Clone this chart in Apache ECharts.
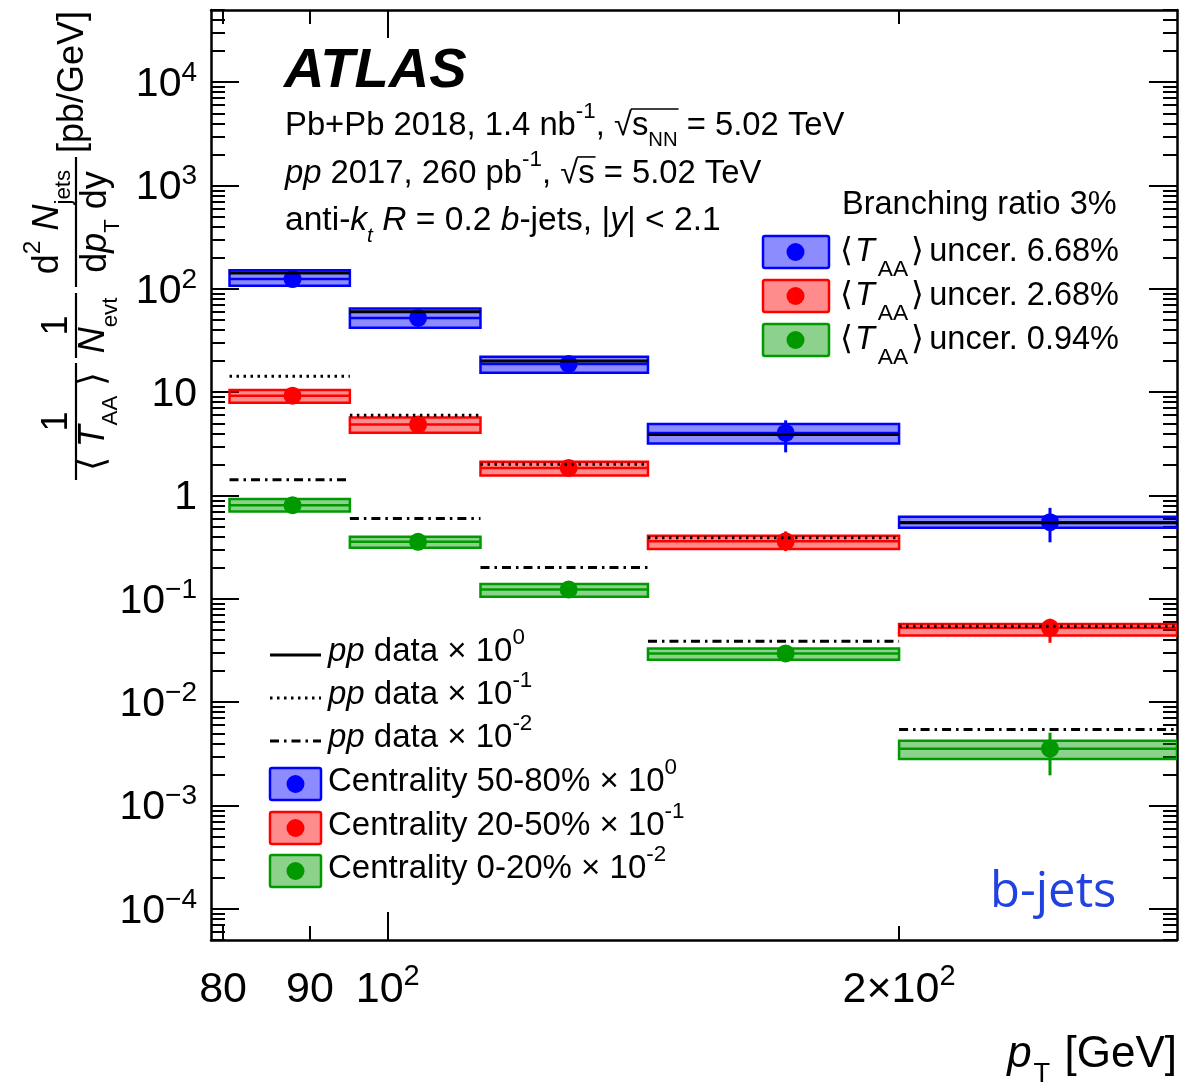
<!DOCTYPE html>
<html>
<head>
<meta charset="utf-8">
<script src="https://cdn.jsdelivr.net/npm/echarts@6/dist/echarts.min.js"></script>
<style>
  html, body { margin: 0; padding: 0; background: #fff; }
  #chart { width: 1184px; height: 1085px; }
</style>
</head>
<body>
<div id="chart"></div>
<script>
// ---------------- data ----------------
// jet pT bin edges [GeV] and the mean pT of the jets in each bin
const binEdges = [80.7, 95, 113.4, 142.3, 200, 291.5];
const meanPt = [87.9, 104.2, 127.8, 171.5, 245.4];

// pp reference spectrum [pb/GeV]; drawn x10^0 (solid), x10^-1 (dotted), x10^-2 (dash-dot)
const ppYield = [142.5, 60.0, 20.1, 3.9, 0.545];
const ppScale = [1, 0.1, 0.01];

// Pb+Pb per-event yields / <T_AA> (before the legend scale factor)
const yield5080 = [124.6, 52.3, 18.8, 4.04, 0.552];
const syst5080Lo = [107.0, 42.0, 15.4, 3.19, 0.489];
const syst5080Hi = [151.7, 64.5, 22.0, 4.92, 0.623];
const stat5080Lo = [119.0, 50.2, 18.0, 2.62, 0.353];
const stat5080Hi = [130.0, 54.5, 19.6, 5.35, 0.76];

const yield2050 = [92.7, 48.6, 18.5, 3.61, 0.525];
const syst2050Lo = [79.0, 40.5, 15.6, 3.04, 0.442];
const syst2050Hi = [104.8, 57.0, 21.2, 4.09, 0.572];
const stat2050Lo = [89.0, 46.8, 17.6, 2.9, 0.376];
const stat2050Hi = [96.5, 50.4, 19.4, 4.5, 0.642];

const yield0020 = [80.6, 35.7, 12.3, 2.965, 0.355];
const syst0020Lo = [70.0, 31.3, 10.5, 2.57, 0.283];
const syst0020Hi = [92.5, 40.0, 13.9, 3.32, 0.425];
const stat0020Lo = [77.5, 34.2, 11.7, 2.65, 0.196];
const stat0020Hi = [83.8, 37.3, 12.9, 3.3, 0.507];

const centralityScale = [1, 0.1, 0.01];

// axis ranges and labelled ticks
const X_MIN = 78.7, X_MAX = 291.5;
const Y_MIN = 5e-5, Y_MAX = 5e4;
const xLabelValues = [80, 90, 100, 200];
const xShortTicks = [80, 90, 200];
const xLongTicks = [100];
const yDecades = [1e-4, 1e-3, 1e-2, 1e-1, 1, 10, 100, 1e3, 1e4];

// ---------------- helpers ----------------
const FAM = "'Liberation Sans', Arial, Helvetica, sans-serif";
const mctx = document.createElement('canvas').getContext('2d');
function fnt(sz, it, bd) { return (it ? 'italic ' : '') + (bd ? 'bold ' : '') + sz.toFixed(1) + 'px ' + FAM; }
function tw(t, f) { mctx.font = f; return mctx.measureText(t).width; }

// lays out a line of mixed text (italic, super/subscripts, radicals)
// y is the vertical middle of the main-size text; seg = [kind, text, opts]
function latex(segs, size, x, y, align, color, subDy, subSc) {
  const items = [];
  let cx = 0;
  segs.forEach(s => {
    const k = s[0], t = s[1], o = s[2] || {};
    let sz = size, it = false, bd = false, dy = 0;
    if (k === 'i') it = true;
    if (k === 'b') { it = true; bd = true; }
    if (k === 'sup') { sz = size * 0.68; dy = -0.42 * size; }
    if (k === 'sub' || k === 'isub') { sz = size * (subSc || 0.62); dy = (subDy || 0.45) * size; it = (k === 'isub'); }
    const f = fnt(sz, it, bd);
    const w = tw(t, f);
    cx += (o.pre || 0);
    items.push({ k, t, f, x: cx, dy, w, n: o.n || 0 });
    cx += w + (o.post || 0);
  });
  const off = align === 'right' ? -cx : (align === 'center' ? -cx / 2 : 0);
  const els = [];
  items.forEach((it, i) => {
    els.push({
      type: 'text', x: x + off + it.x, y: y + it.dy,
      style: { text: it.t, font: it.f, fill: color || '#000', textAlign: 'left', textVerticalAlign: 'middle' }
    });
    if (it.k === 'sqrt') {
      const last = items[i + it.n];
      els.push({
        type: 'line',
        shape: { x1: x + off + it.x + it.w - 1, y1: y - 0.52 * size, x2: x + off + last.x + last.w + 1, y2: y - 0.52 * size },
        style: { stroke: color || '#000', lineWidth: 1.6 }
      });
    }
  });
  return { els, width: cx };
}

// ---------------- series ----------------
const groups = [
  { color: '#0000ff', fill: 'rgba(0,0,255,0.45)', y: yield5080, sLo: syst5080Lo, sHi: syst5080Hi, tLo: stat5080Lo, tHi: stat5080Hi, f: centralityScale[0] },
  { color: '#ff0000', fill: 'rgba(255,0,0,0.45)', y: yield2050, sLo: syst2050Lo, sHi: syst2050Hi, tLo: stat2050Lo, tHi: stat2050Hi, f: centralityScale[1] },
  { color: '#009a00', fill: 'rgba(0,154,0,0.45)', y: yield0020, sLo: syst0020Lo, sHi: syst0020Hi, tLo: stat0020Lo, tHi: stat0020Hi, f: centralityScale[2] }
];

const series = [];
// systematic boxes with a line through the central value
groups.forEach(g => {
  series.push({
    type: 'custom', xAxisIndex: 0, yAxisIndex: 0, clip: true, z: 2,
    data: g.y.map((v, i) => [binEdges[i], binEdges[i + 1], g.sLo[i] * g.f, g.sHi[i] * g.f, v * g.f]),
    renderItem: (params, api) => {
      const a = api.coord([api.value(0), api.value(3)]);
      const b = api.coord([api.value(1), api.value(2)]);
      const m0 = api.coord([api.value(0), api.value(4)]);
      const m1 = api.coord([api.value(1), api.value(4)]);
      return {
        type: 'group', children: [
          { type: 'rect', shape: { x: a[0], y: a[1], width: b[0] - a[0], height: b[1] - a[1] }, style: { fill: g.fill, stroke: g.color, lineWidth: 2.5 } },
          { type: 'line', shape: { x1: m0[0], y1: m0[1], x2: m1[0], y2: m1[1] }, style: { stroke: g.color, lineWidth: 2.5 } }
        ]
      };
    }
  });
});
// statistical error bars
groups.forEach(g => {
  series.push({
    type: 'custom', xAxisIndex: 0, yAxisIndex: 0, z: 3,
    data: g.y.map((v, i) => [meanPt[i], g.tLo[i] * g.f, g.tHi[i] * g.f]),
    renderItem: (params, api) => {
      const a = api.coord([api.value(0), api.value(1)]);
      const b = api.coord([api.value(0), api.value(2)]);
      return { type: 'line', shape: { x1: a[0], y1: a[1], x2: b[0], y2: b[1] }, style: { stroke: g.color, lineWidth: 3 } };
    }
  });
});
// markers
groups.forEach(g => {
  series.push({
    type: 'scatter', xAxisIndex: 0, yAxisIndex: 0, z: 4,
    symbol: 'circle', symbolSize: 18,
    itemStyle: { color: g.color, opacity: 1 },
    data: g.y.map((v, i) => [meanPt[i], v * g.f])
  });
});
// pp reference lines
const ppDash = [null, [2.5, 4.5], [9, 5, 2.5, 5]];
ppScale.forEach((s, j) => {
  series.push({
    type: 'custom', xAxisIndex: 0, yAxisIndex: 0, clip: true, z: 5,
    data: ppYield.map((v, i) => [binEdges[i], binEdges[i + 1], v * s]),
    renderItem: (params, api) => {
      const a = api.coord([api.value(0), api.value(2)]);
      const b = api.coord([api.value(1), api.value(2)]);
      return { type: 'line', shape: { x1: a[0], y1: a[1], x2: b[0], y2: b[1] }, style: { stroke: '#000', lineWidth: 3, lineDash: ppDash[j] } };
    }
  });
});

// ---------------- axes ----------------
const yMinor = [];
for (let e = -5; e <= 4; e++) {
  for (let k = 2; k <= 9; k++) {
    const v = +(k * Math.pow(10, e)).toPrecision(3);
    if (v > Y_MIN * 0.999 && v < Y_MAX * 1.001) yMinor.push(v);
  }
}
const tickLine = { color: '#000', width: 2 };
const axLine = { color: '#000', width: 2.5 };

function xAxis(pos, ticks, len, line, withLabels) {
  return {
    type: 'log', logBase: 10, min: X_MIN, max: X_MAX, position: pos,
    axisLine: { show: line, onZero: false, lineStyle: axLine },
    axisTick: { show: true, inside: true, length: len, customValues: ticks, lineStyle: tickLine },
    axisLabel: withLabels ? {
      customValues: xLabelValues, margin: 22, color: '#000', fontFamily: FAM,
      formatter: v => {
        const r = Math.round(v);
        if (r === 100) return '{m|10}{s|2}';
        if (r === 200) return '{m|2\u00d710}{s|2}';
        return '{m|' + r + '}';
      },
      rich: {
        m: { fontSize: 43, lineHeight: 50, verticalAlign: 'bottom', fontFamily: FAM, color: '#000' },
        s: { fontSize: 29, lineHeight: 18, verticalAlign: 'top', fontFamily: FAM, color: '#000' }
      }
    } : { show: false },
    splitLine: { show: false }, minorTick: { show: false }
  };
}
function yAxis(pos, ticks, len, line, withLabels) {
  return {
    type: 'log', logBase: 10, min: Y_MIN, max: Y_MAX, position: pos,
    axisLine: { show: line, onZero: false, lineStyle: axLine },
    axisTick: { show: true, inside: true, length: len, customValues: ticks, lineStyle: tickLine },
    axisLabel: withLabels ? {
      customValues: yDecades, margin: 14, color: '#000', fontFamily: FAM,
      formatter: v => {
        const e = Math.round(Math.log10(v));
        if (e === 0) return '{m|1}';
        if (e === 1) return '{m|10}';
        return '{m|10}{s|' + (e < 0 ? '\u2212' + (-e) : e) + '}';
      },
      rich: {
        m: { fontSize: 41, lineHeight: 46, verticalAlign: 'bottom', fontFamily: FAM, color: '#000' },
        s: { fontSize: 28, lineHeight: 18, verticalAlign: 'top', fontFamily: FAM, color: '#000' }
      }
    } : { show: false },
    splitLine: { show: false }, minorTick: { show: false }
  };
}

// ---------------- annotations ----------------
const graphic = [];
function add(r) { r.els.forEach(e => graphic.push(e)); }

// experiment label and data set description
add(latex([['b', 'ATLAS']], 56, 284, 72, 'left'));
add(latex([['n', 'Pb+Pb 2018, 1.4 nb'], ['sup', '-1'], ['n', ', '], ['sqrt', '\u221a', { n: 2 }], ['n', 's'], ['sub', 'NN'], ['n', ' = 5.02 TeV']], 32.8, 285, 126, 'left'));
add(latex([['i', 'pp'], ['n', ' 2017, 260 pb'], ['sup', '-1'], ['n', ', '], ['sqrt', '\u221a', { n: 1 }], ['n', 's'], ['n', ' = 5.02 TeV']], 32.8, 285, 174, 'left'));
add(latex([['n', 'anti-'], ['i', 'k'], ['isub', 't'], ['n', ' '], ['i', 'R'], ['n', ' = 0.2 '], ['i', 'b'], ['n', '-jets, |'], ['i', 'y'], ['n', '| < 2.1']], 33.6, 285, 221, 'left'));

// left legend: pp lines
const legX = 270, legW = 51;
const legRows = [652, 695, 738, 782, 826, 869];
ppDash.forEach((d, j) => {
  graphic.push({ type: 'line', shape: { x1: legX, y1: legRows[j] + 3, x2: legX + legW, y2: legRows[j] + 3 }, style: { stroke: '#000', lineWidth: 3, lineDash: d } });
  add(latex([['i', 'pp'], ['n', ' data \u00d7 10'], ['sup', j === 0 ? '0' : '-' + j]], 33, 328, legRows[j], 'left'));
});
// left legend: centrality boxes
const centLabels = ['Centrality 50-80% \u00d7 10', 'Centrality 20-50% \u00d7 10', 'Centrality 0-20% \u00d7 10'];
groups.forEach((g, j) => {
  const yc = legRows[3 + j] + 2;
  graphic.push({ type: 'rect', shape: { x: 270, y: yc - 16, width: 51, height: 32, r: 2 }, style: { fill: g.fill, stroke: g.color, lineWidth: 2.5 } });
  graphic.push({ type: 'circle', shape: { cx: 295.5, cy: yc, r: 9 }, style: { fill: g.color } });
  add(latex([['n', centLabels[j]], ['sup', j === 0 ? '0' : '-' + j]], 33, 328, legRows[3 + j], 'left'));
});

// right legend: normalisation uncertainties
const taaUnc = ['6.68%', '2.68%', '0.94%'];
const rRows = [252, 296, 340];
add(latex([['n', 'Branching ratio 3%']], 32.5, 842, 205, 'left'));
groups.forEach((g, j) => {
  const yc = rRows[j];
  graphic.push({ type: 'rect', shape: { x: 763, y: yc - 16, width: 66, height: 32, r: 2 }, style: { fill: g.fill, stroke: g.color, lineWidth: 2.5 } });
  graphic.push({ type: 'circle', shape: { cx: 795.5, cy: yc, r: 9 }, style: { fill: g.color } });
  add(latex([['n', '\u27e8', { post: 2 }], ['i', 'T', { post: 3 }], ['sub', 'AA', { post: 3 }], ['n', '\u27e9', { post: 5 }], ['n', 'uncer. ' + taaUnc[j]]], 32.5, 840, yc, 'left', '#000', 0.55, 0.7));
});

// jet flavour tag
graphic.push({ type: 'text', x: 990, y: 893, style: { text: 'b-jets', font: "49px 'Open Sans', 'Noto Sans', sans-serif", fill: '#2142e0', textAlign: 'left', textVerticalAlign: 'middle' } });

// x-axis title
add(latex([['i', 'p', { post: 2 }], ['sub', 'T', { post: 2 }], ['n', ' [GeV]']], 44, 1177, 1055, 'right'));

// y-axis title, built along the reading direction and turned upright
const yt = [];
function pushAll(r) { r.els.forEach(e => yt.push(e)); }
function frac(num, den, l0, l1, numMid, denMid) {
  yt.push({ type: 'line', shape: { x1: l0, y1: 76, x2: l1, y2: 76 }, style: { stroke: '#000', lineWidth: 2.2 } });
  pushAll(latex(num, 36, (l0 + l1) / 2, numMid, 'center'));
  pushAll(latex(den, 36, (l0 + l1) / 2, denMid, 'center', '#000', 0.48));
}
frac([['n', '1']], [['n', '\u27e8 '], ['i', 'T'], ['sub', 'AA'], ['n', ' \u27e9']], 10, 127, 57, 94);
frac([['n', '1']], [['i', 'N'], ['sub', 'evt']], 132, 197, 57, 94);
frac([['n', 'd'], ['sup', '2'], ['n', ' '], ['i', 'N'], ['sub', 'jets']], [['n', 'd'], ['i', 'p'], ['sub', 'T'], ['n', ' dy']], 203, 333, 48, 96);
pushAll(latex([['n', '[pb/GeV]']], 36, 337, 73, 'left'));
graphic.push({ type: 'group', x: 0, y: 490, rotation: Math.PI / 2, children: yt });

// ---------------- chart ----------------
const chart = echarts.init(document.getElementById('chart'), null, { renderer: 'canvas' });
chart.setOption({
  animation: false,
  backgroundColor: '#fff',
  grid: { left: 211, right: 7, top: 10, bottom: 145, containLabel: false, outerBoundsMode: 'none' },
  xAxis: [
    xAxis('bottom', xShortTicks, 14, true, true),
    xAxis('bottom', xLongTicks, 28, false, false),
    xAxis('top', xShortTicks, 14, true, false),
    xAxis('top', xLongTicks, 28, false, false)
  ],
  yAxis: [
    yAxis('left', yMinor, 14, true, true),
    yAxis('left', yDecades, 28, false, false),
    yAxis('right', yMinor, 14, true, false),
    yAxis('right', yDecades, 28, false, false)
  ],
  series: series,
  graphic: graphic
});
</script>
</body>
</html>
